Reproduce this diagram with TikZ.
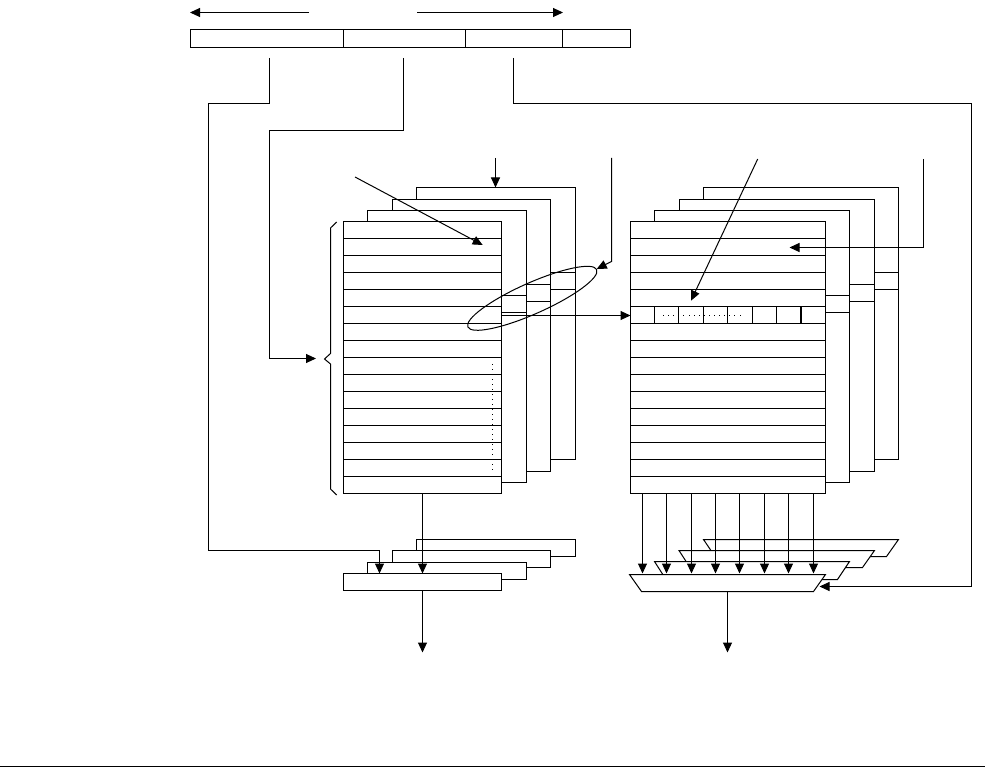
\documentclass[tikz,border=0pt]{standalone}
\usetikzlibrary{arrows.meta,shapes.geometric}
\tikzset{
  ln/.style={line width=1pt,draw=black},
  arr/.style={ln,-{Triangle[length=10pt,width=9pt]}},
  boxn/.style={ln,fill=white,rectangle,inner sep=0pt,outer sep=0pt},
}
\newcommand{\mybox}[5]{%
  \pgfmathsetmacro{\bw}{#4-#2}\pgfmathsetmacro{\bh}{#5-#3}%
  \pgfmathsetmacro{\bx}{(#4+#2)/2}\pgfmathsetmacro{\by}{(#5+#3)/2}%
  \node[boxn,minimum width=\bw pt,minimum height=\bh pt] (#1) at (\bx,\by) {};}
\newcommand{\mystack}[9]{% name l t r b, stripe x0 x1 y0 y1
  \mybox{#1}{#2}{#3}{#4}{#5}%
  \draw[ln] (#6,#8) -- (#7,#8) (#6,#9) -- (#7,#9);}
\newcommand{\mymux}[6]{% top-left top-right top-y bottom-right bottom-y bottom-left
  \filldraw[ln,fill=white] (#1,#3) -- (#2,#3) -- (#4,#5) -- (#6,#5) -- cycle;}
\begin{document}
\begin{tikzpicture}[x=1pt,y=-1pt]
\useasboundingbox (0,0) rectangle (985,767);
\fill[white] (0,0) rectangle (985,767);
% address bar
\mybox{fldA}{190.5}{29.5}{343.5}{47.5}
\mybox{fldB}{343.5}{29.5}{465.5}{47.5}
\mybox{fldC}{465.5}{29.5}{562.5}{47.5}
\mybox{fldD}{562.5}{29.5}{630.5}{47.5}
% width arrows
\coordinate (wL0) at (309,12.5); \coordinate (wL1) at (190,12.5);
\coordinate (wR0) at (417,12.5); \coordinate (wR1) at (563,12.5);
\draw[arr] (wL0) -- (wL1);
\draw[arr] (wR0) -- (wR1);
% left stacks
\mystack{tagC}{416.5}{187.5}{575.5}{459.5}{550.5}{575.5}{272.5}{289.5}
\mystack{tagB}{392.5}{199.5}{550.5}{471.5}{526.5}{550.5}{284.5}{301.5}
\mystack{tagA}{367.5}{210.5}{526.5}{482.5}{501.5}{526.5}{295.5}{312.5}
\mybox{tagF}{343.5}{221.5}{501.5}{493.5}
\foreach \k in {1,...,15}{\draw[ln] (343.5,221.5+17*\k) -- (501.5,221.5+17*\k);}
\foreach \y in {364,369,379,384,389,394,399,404,409,414,419,424,429,434,439,444,449,454,464,469}{\fill (492,\y) rectangle (493,\y+1);}
% right stacks
\mystack{datC}{703.5}{187.5}{898.5}{459.5}{874.5}{898.5}{272.5}{289.5}
\mystack{datB}{679}{199.5}{874.5}{471.5}{849.5}{874.5}{284.5}{301.5}
\mystack{datA}{654.5}{210.5}{849.5}{482.5}{825.5}{849.5}{295.5}{312.5}
\mybox{datF}{630.5}{221.5}{825.5}{493.5}
\foreach \k in {1,...,15}{\draw[ln] (630.5,221.5+17*\k) -- (825.5,221.5+17*\k);}
\foreach \x in {654.5,678.5,703.5,727.5,752.5,776.5}{\draw[ln] (\x,306.5) -- (\x,323.5);}
\draw[line width=2pt] (801,306.5) -- (801,323.5);
\foreach \k in {0,...,15}{\fill (663+5.1*\k,315) rectangle (664+5.1*\k,316);}
% selector ellipse
\node[ellipse,ln,rotate=24,minimum width=141pt,minimum height=31pt,inner sep=0pt,outer sep=0pt] (sel) at (532.3,298.3) {};
% left bottom registers
\mybox{regC}{416.5}{539.5}{575.5}{556.5}
\mybox{regB}{392.5}{550.5}{550.5}{567.5}
\mybox{regA}{367.5}{562.5}{526.5}{579.5}
\mybox{regF}{343.5}{573.5}{501.5}{590.5}
% right bottom muxes
\mymux{703.5}{898.5}{539.5}{886.5}{556.5}{715}
\mymux{679}{874.5}{550.5}{862.5}{567.5}{690}
\mymux{654.5}{849.5}{561.5}{837.5}{579.5}{666}
\mymux{629.5}{825.5}{574.5}{813.5}{591.5}{641.5}
% connectors
\coordinate (cA0) at (269.5,58); \coordinate (cA1) at (208.5,103.5); \coordinate (cA2) at (379.5,550.5); \coordinate (cA3) at (379.5,573.5);
\draw[arr] (cA0) |- (cA1) -- (cA1 |- cA2) -- (cA2) -- (cA3);
\coordinate (cB0) at (403.5,58); \coordinate (cB1) at (269.5,130.5); \coordinate (cB2) at (316,358.5);
\draw[arr] (cB0) |- (cB1) |- (cB2);
\coordinate (cC0) at (513.5,58); \coordinate (cC1) at (971.5,103.5); \coordinate (cC2) at (819.5,586.5);
\draw[arr] (cC0) |- (cC1) |- (cC2);
\coordinate (nA) at (495.5,158); \draw[arr] (nA) -- (nA |- tagC.north);
\coordinate (sA) at (611.5,158); \coordinate (sB) at (611.5,261.5); \coordinate (sC) at (596.7,269);
\draw[arr] (sA) -- (sB) -- (sC);
\coordinate (dA) at (355,177); \coordinate (dB) at (482.7,245);
\draw[arr] (dA) -- (dB);
\coordinate (eA) at (757.7,159); \coordinate (eB) at (691,300.7);
\draw[arr] (eA) -- (eB);
\coordinate (fA) at (923.5,159); \coordinate (fB) at (789.5,247.5);
\draw[arr] (fA) |- (fB);
\coordinate (hA) at (501.5,315.5);
\draw[arr] (hA) -- (hA -| datF.west);
\draw[arr] (tagF.south) -- (regF.north);
\coordinate (outL) at (422.5,652.5);
\draw[arr] (regF.south) -- (outL);
\foreach \x in {642.5,666.5,691.5,715.5,739.5,764.5,788.5,813.5}{\draw[arr] (\x,493.5) -- (\x,573.5);}
\coordinate (muxOut) at (727.5,591.5); \coordinate (outR) at (727.5,652.5);
\draw[arr] (muxOut) -- (outR);
% brace
\draw[ln] (336.7,222) -- (330.5,228) -- (330.5,353.5) -- (324.5,359) -- (330.5,364) -- (330.5,489) -- (336.7,495);
% bottom rule
\coordinate (rA) at (0,766.5); \coordinate (rB) at (985,766.5);
\draw[ln] (rA) -- (rB);
\end{tikzpicture}
\end{document}
